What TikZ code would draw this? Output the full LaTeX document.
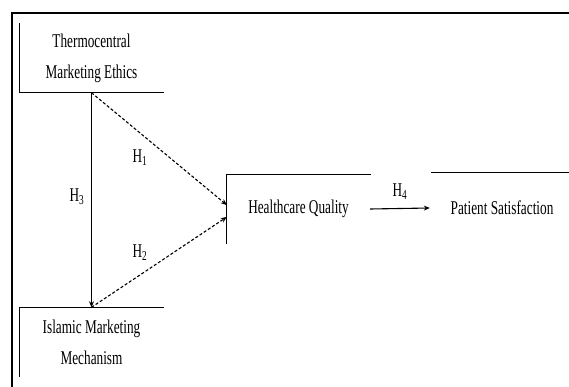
\documentclass[tikz,border=0pt]{standalone}
\usepackage{fontspec}
\setmainfont[FakeStretch=0.68]{Liberation Serif}
\usetikzlibrary{arrows.meta}
\begin{document}
\begin{tikzpicture}[x=1pt,y=-1pt,
  txt/.style={font=\fontsize{19.5}{31}\selectfont, align=center, inner sep=0pt},
  boxarea/.style={txt, minimum width=#1, minimum height=69pt},
  rule/.style={line width=1.3pt, line cap=rect},
  link/.style={line width=1.1pt, -{Stealth[length=6pt,width=5pt]}},
  dlink/.style={link, dash pattern=on 3pt off 2pt},
  hlabel/.style={font=\fontsize{19.5}{20}\selectfont, inner sep=0pt}]
\useasboundingbox (0,0) rectangle (569,387);

% outer frame (top and left edges)
\draw[line width=2.6pt] (12,387) -- (12,13) -- (569,13);

% construct boxes
\node[boxarea=143pt] (tme) at (91.5,58) {Thermocentral\\Marketing Ethics};
\node[boxarea=143pt] (imm) at (91.5,342) {Islamic Marketing\\Mechanism};
\node[boxarea=143pt] (hq)  at (298.5,209) {Healthcare Quality};
\node[boxarea=140pt, minimum height=70pt] (ps) at (502,208) {Patient Satisfaction};

% partial borders
\draw[rule] (tme.north west) -- (tme.south west) -- (tme.south east);
\draw[rule] (imm.south west) -- (imm.north west) -- (imm.north east);
\draw[rule] (hq.south west) -- (hq.north west) -- (hq.north east);
\draw[rule] (ps.north west) -- (ps.north east);

% arrow end points on the quality box
\coordinate (h1end) at ([yshift=4pt]hq.west);
\coordinate (h2end) at ([yshift=-8pt]hq.west);

% connectors
\draw[link] (tme.south) -- (imm.north);
\draw[dlink] (tme.south) -- (h1end);
\draw[dlink] (imm.north) -- (h2end);
\draw[link] (hq.east) -- ([xshift=-2pt]ps.west);

% hypothesis labels
\node[hlabel] (l1) at (140,158) {H\textsubscript{1}};
\node[hlabel] (l2) at (140,253) {H\textsubscript{2}};
\node[hlabel] (l3) at (77,197) {H\textsubscript{3}};
\node[hlabel] (l4) at (400,192) {H\textsubscript{4}};
\end{tikzpicture}
\end{document}
